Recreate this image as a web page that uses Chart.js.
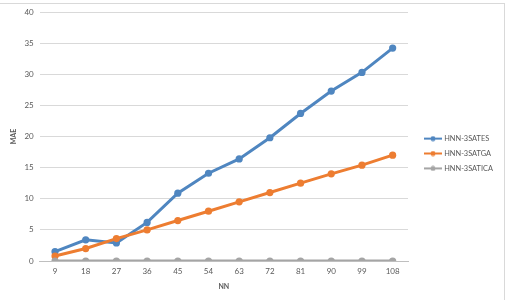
<!DOCTYPE html>
<html>
<head>
<meta charset="utf-8">
<script src="https://cdn.jsdelivr.net/npm/chart.js@4/dist/chart.umd.min.js"></script>
<style>
  html, body { margin: 0; padding: 0; background: #fff; }
  #wrap { position: relative; width: 509px; height: 300px; overflow: hidden; }
  #frame { position: absolute; left: -2px; top: 3px; width: 506px; height: 310px; border-top: 1px solid #d9d9d9; border-right: 1px solid #d9d9d9; pointer-events: none; }
</style>
</head>
<body>
<div id="wrap">
  <canvas id="chartLine" width="509" height="300"></canvas>
  <div id="frame"></div>
</div>
<script>
// data
const labelsNN = ["9", "18", "27", "36", "45", "54", "63", "72", "81", "90", "99", "108"];
const valuesATES = [1.5, 3.4, 2.9, 6.2, 10.9, 14.1, 16.4, 19.8, 23.7, 27.3, 30.3, 34.2];
const valuesATGA = [0.8, 2.0, 3.6, 5.0, 6.5, 8.0, 9.5, 11.0, 12.5, 14.0, 15.4, 17.0];
const valuesATICA = [0, 0, 0, 0, 0, 0, 0, 0, 0, 0, 0, 0];
const seriesNames = ["HNN-3SATES", "HNN-3SATGA", "HNN-3SATICA"];
const seriesColors = ["#4f86c0", "#ed7d31", "#a5a5a5"];
const yTicks = [0, 5, 10, 15, 20, 25, 30, 35, 40];

// small line+dot picture for the legend
function legendIcon(color) {
    const c = document.createElement("canvas");
    c.width = 18;
    c.height = 6;
    const g = c.getContext("2d");
    g.strokeStyle = color;
    g.lineWidth = 2;
    g.beginPath();
    g.moveTo(0, 3);
    g.lineTo(18, 3);
    g.stroke();
    g.fillStyle = color;
    g.beginPath();
    g.arc(9, 3, 2.5, 0, Math.PI * 2);
    g.fill();
    return c;
}

const seriesValues = [valuesATES, valuesATGA, valuesATICA];

const dataLine = {
    labels: labelsNN,
    datasets: seriesNames.map((name, i) => ({
        label: name,
        data: seriesValues[i],
        borderColor: seriesColors[i],
        backgroundColor: seriesColors[i],
        borderWidth: 3,
        pointRadius: 3.6,
        pointBorderWidth: 0,
        pointHoverRadius: 3.6,
        tension: 0,
        order: 3 - i,
    })),
};

// legend sits with a wider gap from the plot, like the original
const legendGap = {
    id: "legendGap",
    afterInit(chart) {
        const lg = chart.legend;
        const fit = lg.fit;
        lg.fit = function () {
            fit.call(this);
            this.width = 99;
        };
        const draw = lg.draw;
        lg.draw = function () {
            const ctx = this.ctx;
            ctx.save();
            ctx.translate(10, 2);
            draw.call(this);
            ctx.restore();
        };
    },
};

const configLineChart = {
    type: "line",
    data: dataLine,
    plugins: [legendGap],
    options: {
        responsive: false,
        animation: false,
        layout: { padding: { left: 10, right: 2, top: 12, bottom: 9 } },
        plugins: {
            tooltip: { enabled: false },
            legend: {
                position: "right",
                align: "center",
                labels: {
                    font: { family: "Lato", size: 7.4 },
                    color: "#595959",
                    usePointStyle: true,
                    pointStyleWidth: 15,
                    padding: 7.5,
                    generateLabels: (chart) => chart.data.datasets.map((ds, i) => ({
                        text: ds.label,
                        fillStyle: ds.borderColor,
                        strokeStyle: ds.borderColor,
                        lineWidth: 0,
                        pointStyle: legendIcon(ds.borderColor),
                        datasetIndex: i,
                        fontColor: "#595959",
                    })),
                },
            },
        },
        scales: {
            x: {
                offset: true,
                grid: { display: false, drawTicks: false },
                border: { display: true, color: "#bfbfbf", width: 1 },
                ticks: {
                    color: "#595959",
                    font: { family: "Lato", size: 8 },
                    padding: 6,
                    maxRotation: 0,
                },
                title: {
                    display: true,
                    text: "NN",
                    color: "#595959",
                    font: { family: "Lato", size: 7, weight: "bold" },
                    padding: { top: 0, bottom: 0 },
                },
            },
            y: {
                min: 0,
                max: 40,
                afterBuildTicks: (axis) => { axis.ticks = yTicks.map(v => ({ value: v })); },
                grid: { color: "#d9d9d9", drawTicks: false },
                border: { display: false },
                ticks: {
                    color: "#595959",
                    font: { family: "Lato", size: 8 },
                    padding: 6,
                },
                title: {
                    display: true,
                    text: "MAE",
                    color: "#595959",
                    font: { family: "Lato", size: 7, weight: "bold" },
                    padding: { top: 0, bottom: 0 },
                },
            },
        },
    },
};

var chartLine = new Chart(
    document.getElementById("chartLine"),
    configLineChart
);
</script>
</body>
</html>
